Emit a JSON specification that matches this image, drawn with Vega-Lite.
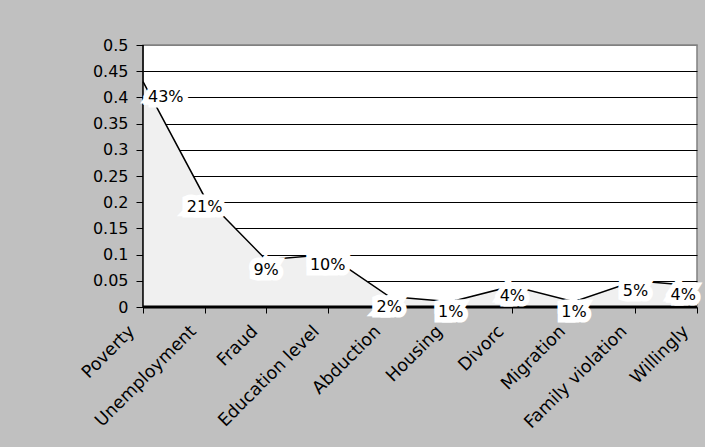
{
  "$schema": "https://vega.github.io/schema/vega-lite/v6.json",
  "width": 554,
  "height": 262,
  "autosize": "none",
  "padding": {"left": 143, "top": 45, "right": 8, "bottom": 140},
  "background": "#c0c0c0",
  "config": {
    "font": "DejaVu Sans",
    "view": {"stroke": "#808080", "strokeWidth": 1.5, "fill": "white"}
  },
  "data": {
    "values": [
      {"cause": "Poverty", "share": 0.43},
      {"cause": "Unemployment", "share": 0.21},
      {"cause": "Fraud", "share": 0.09},
      {"cause": "Education level", "share": 0.10},
      {"cause": "Abduction", "share": 0.02},
      {"cause": "Housing", "share": 0.01},
      {"cause": "Divorc", "share": 0.04},
      {"cause": "Migration", "share": 0.01},
      {"cause": "Family violation", "share": 0.05},
      {"cause": "Willingly", "share": 0.04}
    ]
  },
  "layer": [
    {
      "mark": {"type": "area", "fill": "#f0f0f0", "clip": false},
      "encoding": {
        "x": {
          "field": "cause", "type": "nominal", "sort": null,
          "scale": {"type": "point", "padding": 0},
          "axis": {
            "title": null, "labelAngle": -45, "labelAlign": "right", "labelBaseline": "alphabetic",
            "labelFontSize": 17.5, "labelColor": "black", "labelPadding": 19, "labelOffset": -8, "labelOverlap": false,
            "tickSize": 6, "tickColor": "black", "domain": false, "grid": false, "zindex": 0
          }
        },
        "y": {
          "field": "share", "type": "quantitative",
          "scale": {"domain": [0, 0.5], "nice": false},
          "axis": {
            "title": null, "tickCount": 10,
            "format": "~g", "labelFontSize": 16, "labelColor": "black", "labelPadding": 8, "labelOverlap": false,
            "tickSize": 7, "tickColor": "black", "domain": false, "grid": true,
            "gridColor": {"condition": {"test": "datum.value >= 0.5", "value": "#808080"}, "value": "black"},
            "gridOpacity": 1, "zindex": 0
          }
        }
      }
    },
    {
      "mark": {"type": "line", "color": "black", "strokeWidth": 1.5},
      "encoding": {
        "x": {"field": "cause", "type": "nominal", "sort": null},
        "y": {"field": "share", "type": "quantitative"}
      }
    },
    {
      "data": {"values": [{}]},
      "mark": {"type": "rule", "color": "black", "strokeWidth": 3},
      "encoding": {"y": {"datum": 0}}
    },
    {
      "data": {"values": [{}]},
      "mark": {"type": "rule", "color": "black", "strokeWidth": 1.5},
      "encoding": {"x": {"datum": "Poverty"}}
    },
    {
      "transform": [{"filter": "datum.cause === 'Poverty'"}],
      "mark": {"type": "text", "align": "left", "baseline": "middle", "dx": 5, "dy": 15, "fontSize": 16, "fill": "white", "stroke": "white", "strokeWidth": 11, "strokeJoin": "miter"},
      "encoding": {
        "x": {"field": "cause", "type": "nominal", "sort": null},
        "y": {"field": "share", "type": "quantitative"},
        "text": {"field": "share", "format": ".0%"}
      }
    },
    {
      "transform": [{"filter": "datum.cause !== 'Poverty' && datum.cause !== 'Willingly'"}],
      "mark": {"type": "text", "align": "center", "baseline": "middle", "dy": 10, "fontSize": 16, "fill": "white", "stroke": "white", "strokeWidth": 11, "strokeJoin": "miter"},
      "encoding": {
        "x": {"field": "cause", "type": "nominal", "sort": null},
        "y": {"field": "share", "type": "quantitative"},
        "text": {"field": "share", "format": ".0%"}
      }
    },
    {
      "transform": [{"filter": "datum.cause === 'Willingly'"}],
      "mark": {"type": "text", "align": "right", "baseline": "middle", "dx": -1, "dy": 9, "fontSize": 16, "fill": "white", "stroke": "white", "strokeWidth": 11, "strokeJoin": "miter"},
      "encoding": {
        "x": {"field": "cause", "type": "nominal", "sort": null},
        "y": {"field": "share", "type": "quantitative"},
        "text": {"field": "share", "format": ".0%"}
      }
    },
    {
      "transform": [{"filter": "datum.cause === 'Poverty'"}],
      "mark": {"type": "text", "align": "left", "baseline": "middle", "dx": 5, "dy": 15, "fontSize": 16, "color": "black"},
      "encoding": {
        "x": {"field": "cause", "type": "nominal", "sort": null},
        "y": {"field": "share", "type": "quantitative"},
        "text": {"field": "share", "format": ".0%"}
      }
    },
    {
      "transform": [{"filter": "datum.cause !== 'Poverty' && datum.cause !== 'Willingly'"}],
      "mark": {"type": "text", "align": "center", "baseline": "middle", "dy": 10, "fontSize": 16, "color": "black"},
      "encoding": {
        "x": {"field": "cause", "type": "nominal", "sort": null},
        "y": {"field": "share", "type": "quantitative"},
        "text": {"field": "share", "format": ".0%"}
      }
    },
    {
      "transform": [{"filter": "datum.cause === 'Willingly'"}],
      "mark": {"type": "text", "align": "right", "baseline": "middle", "dx": -1, "dy": 9, "fontSize": 16, "color": "black"},
      "encoding": {
        "x": {"field": "cause", "type": "nominal", "sort": null},
        "y": {"field": "share", "type": "quantitative"},
        "text": {"field": "share", "format": ".0%"}
      }
    }
  ]
}
